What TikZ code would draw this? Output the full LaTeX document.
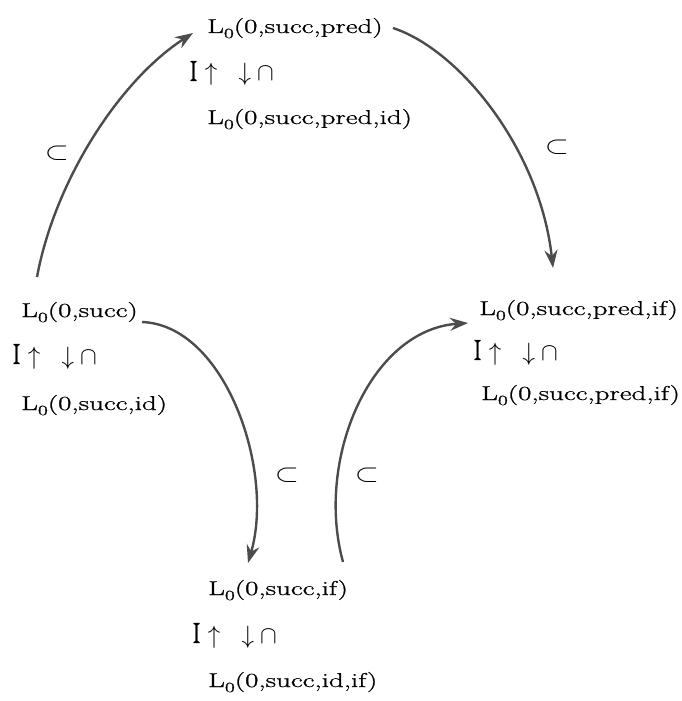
\documentclass[tikz,border=0pt]{standalone}
\usepackage{graphicx}
\usepackage{fontspec}
\newfontfamily\heavylm{Latin Modern Roman}[FakeBold=0.9]
\usetikzlibrary{arrows.meta}
\newcommand{\Lw}[1]{\scalebox{1.45}[1]{L\raisebox{-5pt}{\fontsize{14}{14}\selectfont 0}#1}}
\newcommand{\relrow}{\scalebox{2.5}{\scalebox{0.75}[1.17]{I}\hspace{3.2pt}$\uparrow$\hspace{8.5pt}$\downarrow$\hspace{2.4pt}$\cap$}}
\newcommand{\sub}{\scalebox{3.1}[2.5]{$\subset$}}
\begin{document}
\begin{tikzpicture}[x=1pt,y=-1pt,
  lang/.style={anchor=base west,inner sep=0pt,font=\heavylm\fontsize{20}{24}\selectfont},
  rel/.style={anchor=base west,inner sep=0pt,font=\heavylm},
  arr/.style={draw=black!70,line width=2.4pt,-{Stealth[length=18pt,width=13pt,inset=6pt,fill=black!65]}},
  lab/.style={inner sep=0pt}]
\useasboundingbox (0,0) rectangle (681,701);
% top
\node[lang] (t1) at (207,33) {\Lw{(0,succ,pred)}};
\node[rel]  (t2) at (190,81) {\relrow};
\node[lang] (t3) at (207,124) {\Lw{(0,succ,pred,id)}};
% left
\node[lang] (l1) at (21,317) {\Lw{(0,succ)}};
\node[rel]  (l2) at (13,364) {\relrow};
\node[lang] (l3) at (21,410) {\Lw{(0,succ,id)}};
% right
\node[lang] (r1) at (479,315) {\Lw{(0,succ,pred,if)}};
\node[rel]  (r2) at (474,360) {\relrow};
\node[lang] (r3) at (481,400) {\Lw{(0,succ,pred,if)}};
% bottom
\node[lang] (b1) at (208,595) {\Lw{(0,succ,if)}};
\node[rel]  (b2) at (193,643) {\relrow};
\node[lang] (b3) at (208,687) {\Lw{(0,succ,id,if)}};
% arrows
\draw[arr] ([shift={(16,-40)}]l1.base west) .. controls (55,180) and (120,80) .. ([shift={(-14,0)}]t1.base west);
\draw[arr] ([shift={(186,-5)}]t1.base west) .. controls (460,50) and (540,150) .. ([shift={(74,-47)}]r1.base west);
\draw[arr] ([shift={(121,5)}]l1.base west) .. controls (225,325) and (275,470) .. ([shift={(40,-32)}]b1.base west);
\draw[arr] ([shift={(135,-33)}]b1.base west) .. controls (315,460) and (370,330) .. ([shift={(-11,8)}]r1.base west);
% labels
\node[lab] (c1) at (57,153) {\sub};
\node[lab] (c2) at (557,147) {\sub};
\node[lab] (c3) at (287,475) {\sub};
\node[lab] (c4) at (367,475) {\sub};
\end{tikzpicture}
\end{document}
